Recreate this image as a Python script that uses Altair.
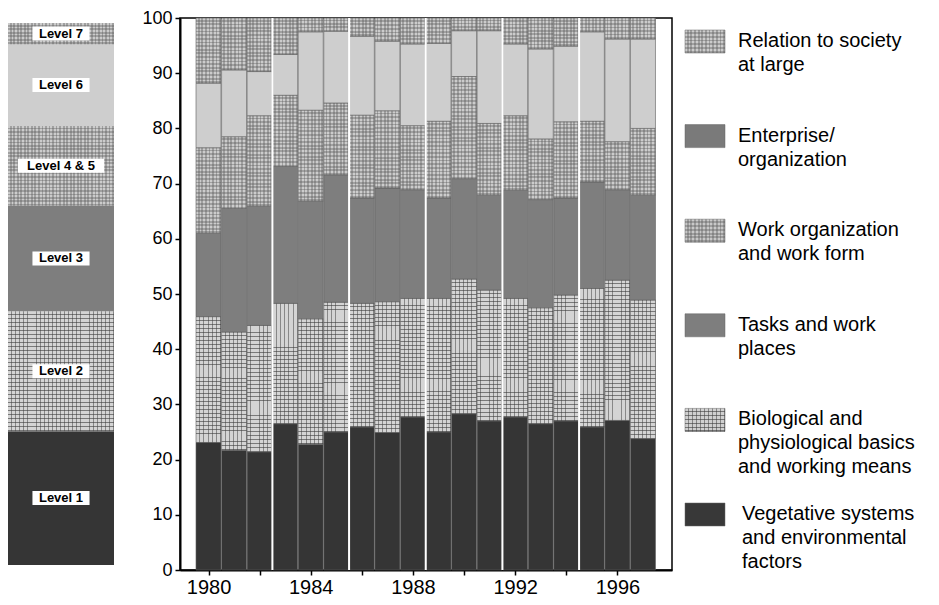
import altair as alt
import pandas as pd

years = list(range(1980, 1998))
categories = [
    "Vegetative systems and environmental factors",
    "Biological and physiological basics and working means",
    "Tasks and work places",
    "Work organization and work form",
    "Enterprise/organization",
    "Relation to society at large",
]
vegetative = [23.1, 21.7, 21.4, 26.5, 22.8, 25.0, 25.9, 24.9, 27.7, 25.0, 28.3, 27.0, 27.7, 26.5, 27.0, 25.9, 27.1, 23.8]
biological = [22.8, 21.4, 22.9, 21.8, 22.7, 23.5, 22.4, 23.7, 21.5, 24.2, 24.4, 23.7, 21.5, 21.0, 22.8, 25.1, 25.4, 25.1]
tasks = [15.1, 22.4, 21.6, 24.8, 21.3, 23.1, 19.1, 20.6, 19.7, 18.2, 18.2, 17.2, 19.6, 19.6, 17.6, 19.3, 16.4, 19.0]
work_org = [15.5, 13.0, 16.4, 12.9, 16.5, 13.0, 15.0, 14.0, 11.6, 13.9, 18.5, 13.0, 13.5, 11.0, 13.8, 11.0, 8.7, 12.1]
enterprise = [11.7, 12.1, 8.0, 7.4, 14.2, 13.0, 14.3, 12.6, 14.8, 14.1, 8.3, 16.8, 13.0, 16.3, 13.7, 16.2, 18.6, 16.2]
society = [11.8, 9.4, 9.7, 6.6, 2.5, 2.4, 3.3, 4.2, 4.7, 4.6, 2.3, 2.3, 4.7, 5.6, 5.1, 2.5, 3.8, 3.8]

levels = ["Level 1", "Level 2", "Level 3", "Level 4 & 5", "Level 6", "Level 7"]
level_shares = [24.7, 22.1, 19.5, 14.7, 15.1, 3.9]

separators = [1982.5, 1985.5, 1988.5, 1991.5, 1994.5]

legend_labels = [
    "Relation to society\nat large",
    "Enterprise/\norganization",
    "Work organization\nand work form",
    "Tasks and work\nplaces",
    "Biological and\nphysiological basics\nand working means",
    "Vegetative systems\nand environmental\nfactors",
]

bar_fills = ["#353535", "#d4d4d4", "#7e7e7e", "#cccccc", "#cecece", "#cccccc"]
legend_fills = ["#cccccc", "#7a7a7a", "#c8c8c8", "#7e7e7e", "#d0d0d0", "#383838"]
legend_texture = ["dot", "none", "dot", "none", "plaid", "none"]

PLAID = categories[1]
DOTTED = [categories[3], categories[5]]

FONT = "Liberation Sans"
H = 552
PX = H / 100.0

PLAID_H = "rgba(60,60,60,0.6)"
PLAID_V = "rgba(60,60,60,0.5)"
DOT_C = "rgba(90,90,90,0.38)"


def stripes(n, along, color, frac):
    stops = []
    for k in range(n):
        a = k / n
        b = (k + 1 - frac) / n
        c = (k + 1) / n
        stops += [alt.GradientStop(offset=a, color="rgba(0,0,0,0)"),
                  alt.GradientStop(offset=b, color="rgba(0,0,0,0)"),
                  alt.GradientStop(offset=b, color=color),
                  alt.GradientStop(offset=c, color=color)]
    if along == "y":
        return alt.LinearGradient(gradient="linear", stops=stops, x1=0, x2=0, y1=0, y2=1)
    return alt.LinearGradient(gradient="linear", stops=stops, x1=0, x2=1, y1=0, y2=0)


def texture_layers(base, mark, enc, rows_df, field_n, n_v, color_h, color_v, frac, cond):
    layers = []
    for n in sorted(rows_df[field_n].unique()):
        flt = f"({cond}) && datum.{field_n} == {int(n)}"
        layers.append(base.transform_filter(flt).mark_bar(**mark, fill=stripes(int(n), "y", color_h, frac)).encode(**enc))
    layers.append(base.transform_filter(cond).mark_bar(**mark, fill=stripes(n_v, "x", color_v, frac)).encode(**enc))
    return layers


# ---------- main stacked bars ----------
series = [vegetative, biological, tasks, work_org, enterprise, society]
rows = []
for ci, (cat, vals) in enumerate(zip(categories, series)):
    for y, v in zip(years, vals):
        rows.append({"year": y, "cat": cat, "idx": ci, "value": v})
df = pd.DataFrame(rows).sort_values(["year", "idx"])
df["y1"] = df.groupby("year")["value"].cumsum()
df["y0"] = df["y1"] - df["value"]
df["nd"] = (df["value"] * PX / 3.6).round().clip(lower=1).astype(int)
df["np"] = (df["value"] * PX / 4.0).round().clip(lower=1).astype(int)

xscale = alt.Scale(domain=[1979.08, 1997.94], nice=False, zero=False)
yscale = alt.Scale(domain=[0, 100], nice=False)
cscale = alt.Scale(domain=categories, range=bar_fills)

base = alt.Chart(df)
bars = base.mark_bar(size=25, stroke="#5c5c5c", strokeWidth=0.6).encode(
    x=alt.X("year:Q", scale=xscale, title=None,
            axis=alt.Axis(values=years, format="d",
                          labelExpr="datum.value % 4 == 0 ? datum.label : ''",
                          grid=False, domainColor="black", domainWidth=2,
                          tickColor="black", tickSize=5, tickWidth=1.5,
                          labelFontSize=20, labelFont=FONT, labelColor="black",
                          labelPadding=2, labelFlush=False)),
    y=alt.Y("y0:Q", scale=yscale, title=None,
            axis=alt.Axis(values=list(range(0, 101, 10)), grid=False,
                          domainColor="black", domainWidth=2,
                          tickColor="black", tickSize=5, tickWidth=1.5,
                          labelFontSize=18, labelFont=FONT, labelColor="black",
                          labelPadding=3)),
    y2="y1:Q",
    color=alt.Color("cat:N", scale=cscale, legend=None),
)

enc_main = dict(x=alt.X("year:Q", scale=xscale), y=alt.Y("y0:Q", scale=yscale), y2="y1:Q")
plaid_cond = f"datum.cat == '{PLAID}'"
dot_cond = " || ".join(f"datum.cat == '{c}'" for c in DOTTED)
plaid_layers = texture_layers(base, {"size": 25}, enc_main, df[df["cat"] == PLAID], "np", 6,
                              PLAID_H, PLAID_V, 0.22, plaid_cond)
dot_layers = texture_layers(base, {"size": 25}, enc_main, df[df["cat"].isin(DOTTED)], "nd", 7,
                            DOT_C, DOT_C, 0.5, dot_cond)

sep_df = pd.DataFrame({"pos": separators})
seps = alt.Chart(sep_df).mark_rule(color="white", strokeWidth=2).encode(
    x=alt.X("pos:Q", scale=xscale),
)

main = alt.layer(bars, *plaid_layers, *dot_layers, seps).properties(
    width=492, height=H,
    view=alt.ViewBackground(stroke="black", strokeWidth=1.5),
)

# ---------- level strip ----------
strip_rows = []
acc = 0.0
for i, (lv, s) in enumerate(zip(levels, level_shares)):
    strip_rows.append({"level": lv, "cat": categories[i], "y0": acc, "y1": acc + s,
                       "mid": min(acc + s / 2, 98.3), "lo": 0.0, "hi": 1.0,
                       "half": (len(lv) * 7.3 + 6) / 2 / 106})
    acc += s
sdf = pd.DataFrame(strip_rows)
sdf["bx0"] = 0.5 - sdf["half"]
sdf["bx1"] = 0.5 + sdf["half"]
sdf["value"] = sdf["y1"] - sdf["y0"]
sdf["nd"] = (sdf["value"] * PX / 3.6).round().clip(lower=1).astype(int)
sdf["np"] = (sdf["value"] * PX / 4.0).round().clip(lower=1).astype(int)

sx = alt.Scale(domain=[0, 1.5], nice=False, zero=False)
sbase = alt.Chart(sdf)
senc = dict(x=alt.X("lo:Q", scale=sx, axis=None), x2="hi:Q",
            y=alt.Y("y0:Q", scale=yscale, axis=None), y2="y1:Q")
strip_rect = sbase.mark_bar().encode(
    color=alt.Color("cat:N", scale=cscale, legend=None), **senc)
strip_tex = (texture_layers(sbase, {}, senc, sdf[sdf["cat"] == PLAID], "np", 26,
                            PLAID_H, PLAID_V, 0.22, plaid_cond)
             + texture_layers(sbase, {}, senc, sdf[sdf["cat"].isin(DOTTED)], "nd", 30,
                              DOT_C, DOT_C, 0.5, dot_cond))
strip_box = sbase.mark_bar(orient="horizontal", size=14, color="white").encode(
    x=alt.X("bx0:Q", scale=sx, axis=None), x2="bx1:Q",
    y=alt.Y("mid:Q", scale=yscale, axis=None),
)
strip_text = sbase.mark_text(font=FONT, fontSize=13, fontWeight="bold",
                             color="black", baseline="middle").encode(
    x=alt.datum(0.5, scale=sx),
    y=alt.Y("mid:Q", scale=yscale, axis=None),
    text="level:N",
)
strip = alt.layer(strip_rect, *strip_tex, strip_box, strip_text).properties(
    width=159, height=H, view=alt.ViewBackground(stroke=None))

# ---------- custom legend ----------
lrows = []
for i, (lab, col, tex) in enumerate(zip(legend_labels, legend_fills, legend_texture)):
    top = 12 + i * 94.6
    lrows.append({"label": lab, "fill": col, "tex": tex, "sx0": 0, "sx1": 40,
                  "sy0": top, "sy1": top + 23, "ty": top + 1,
                  "tx": 53 if i < 5 else 57})
ldf = pd.DataFrame(lrows)
lx = alt.Scale(domain=[0, 240], nice=False, zero=False)
ly = alt.Scale(domain=[0, H], nice=False, zero=False, reverse=True)
lbase = alt.Chart(ldf)
lenc = dict(x=alt.X("sx0:Q", scale=lx, axis=None), x2="sx1:Q",
            y=alt.Y("sy0:Q", scale=ly, axis=None), y2="sy1:Q")
sw = lbase.mark_rect(stroke="#666666", strokeWidth=0.5).encode(
    color=alt.Color("fill:N", scale=None, legend=None), **lenc)
sw_pl_h = lbase.transform_filter("datum.tex == 'plaid'").mark_rect(
    fill=stripes(6, "y", PLAID_H, 0.25)).encode(**lenc)
sw_pl_v = lbase.transform_filter("datum.tex == 'plaid'").mark_rect(
    fill=stripes(10, "x", PLAID_V, 0.25)).encode(**lenc)
sw_dt_h = lbase.transform_filter("datum.tex == 'dot'").mark_rect(
    fill=stripes(6, "y", DOT_C, 0.5)).encode(**lenc)
sw_dt_v = lbase.transform_filter("datum.tex == 'dot'").mark_rect(
    fill=stripes(11, "x", DOT_C, 0.5)).encode(**lenc)
lt = lbase.mark_text(font=FONT, fontSize=20, color="black", align="left",
                     baseline="top", lineBreak="\n", lineHeight=24).encode(
    x=alt.X("tx:Q", scale=lx, axis=None),
    y=alt.Y("ty:Q", scale=ly, axis=None),
    text="label:N",
)
legend = alt.layer(sw, sw_pl_h, sw_pl_v, sw_dt_h, sw_dt_v, lt).properties(
    width=240, height=H, view=alt.ViewBackground(stroke=None))

chart = alt.hconcat(strip, main, legend, spacing=13, bounds="flush").properties(
    padding={"left": 0, "top": 0, "right": 0, "bottom": 0}
).configure_view(stroke=None).configure(background="white")

chart.save("out.html", embed_options={"renderer": "svg", "actions": False})
